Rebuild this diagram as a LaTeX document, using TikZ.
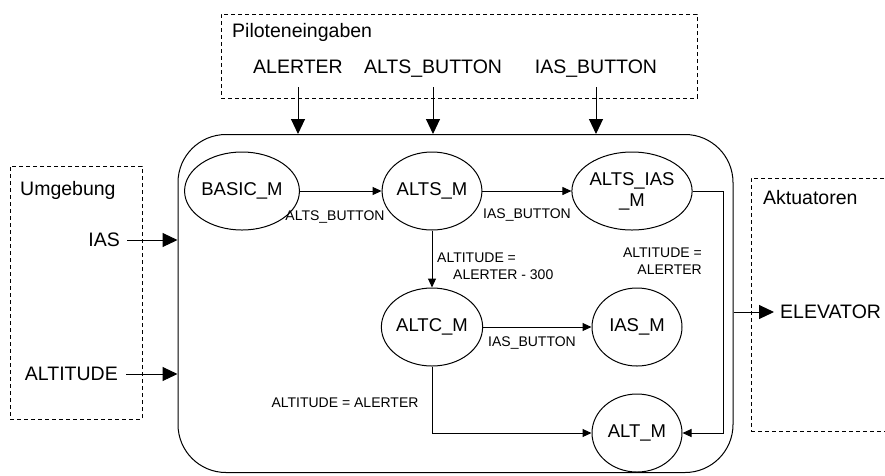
\documentclass[tikz,border=0pt]{standalone}
\usepackage{fontspec}
\setmainfont{Liberation Sans}
\usetikzlibrary{shapes.geometric,arrows.meta}
\begin{document}
\begin{tikzpicture}[x=1pt,y=-1pt,
  lbl/.style={inner sep=0pt, font=\fontsize{19.5}{22}\selectfont},
  small/.style={inner sep=0pt, font=\fontsize{14}{17}\selectfont},
  state/.style={draw, ellipse, line width=1pt, minimum width=90pt, minimum height=78pt, inner sep=0pt, font=\fontsize{18.5}{21}\selectfont, align=center},
  dbox/.style={draw, dash pattern=on 4pt off 3pt, line width=1pt, inner sep=0pt},
  big/.style={-{Triangle[length=15pt,width=14pt]}, line width=1pt},
  tr/.style={-{Triangle[length=9pt,width=8pt]}, line width=1pt},
]
\useasboundingbox (0,0) rectangle (885,475);

% environment boxes
\node[dbox, minimum width=476pt, minimum height=84pt] (pilotbox) at (459,56) {};
\node[dbox, minimum width=132pt, minimum height=253pt] (envbox) at (76,292.5) {};
\node[dbox, minimum width=150pt, minimum height=253pt] (actbox) at (826,304.5) {};

\node[lbl, anchor=base west] (pilot) at (232,37) {Piloteneingaben};
\node[lbl, anchor=base west] (umg) at (20,195) {Umgebung};
\node[lbl, anchor=base west] (akt) at (763,204) {Aktuatoren};

% system box
\node[draw, line width=1pt, rounded corners=48pt, minimum width=555pt, minimum height=338pt] (sys) at (455.5,303.5) {};

% inputs
\node[lbl, anchor=base, text depth=0pt] (alerter) at (298,73) {ALERTER};
\node[lbl, anchor=base, text depth=0pt] (altsb) at (433,73) {ALTS\_BUTTON};
\node[lbl, anchor=base, text depth=0pt] (iasb) at (596,73) {IAS\_BUTTON};
\draw[big] ([yshift=-14pt]alerter.south) -- (alerter.south |- sys.north);
\draw[big] ([yshift=-14pt]altsb.south) -- (altsb.south |- sys.north);
\draw[big] ([yshift=-14pt]iasb.south) -- (iasb.south |- sys.north);

\node[lbl, anchor=east] (ias) at (120,240) {IAS};
\node[lbl, anchor=east] (alt) at (118,374) {ALTITUDE};
\draw[big] ([xshift=7pt]ias.east) -- (ias.east -| sys.west);
\draw[big] ([xshift=8pt]alt.east) -- (alt.east -| sys.west);

\node[lbl, anchor=west] (elev) at (780,312) {ELEVATOR};
\draw[big] (elev.west -| sys.east) -- ([xshift=-6pt]elev.west);

% states
\node[state] (basic) at (242,191) {BASIC\_M};
\node[state] (alts) at (432,191) {ALTS\_M};
\node[state] (altsias) at (632,191) {ALTS\_IAS\\\_M};
\node[state] (altc) at (432,327) {ALTC\_M};
\node[state] (iasm) at (637,327) {IAS\_M};
\node[state] (altm) at (637,433) {ALT\_M};

% transitions
\draw[tr] (basic) -- (alts);
\draw[tr] (alts) -- (altsias);
\draw[tr] (alts) -- (altc);
\draw[tr] (altc) -- (iasm);
\draw[tr] (altc.south) |- (altm.west);
\draw[tr] (altsias.east) -- ++(31,0) |- (altm.east);

\node[small, anchor=base] (t1) at (335,220) {ALTS\_BUTTON};
\node[small, anchor=base] (t2) at (527,218) {IAS\_BUTTON};
\node[small, anchor=base west, align=left] (t3) at (437,279) {ALTITUDE =\\\hspace*{16pt}ALERTER - 300};
\node[small, anchor=base east, align=right] (t4) at (702,274) {ALTITUDE =\\ALERTER};
\node[small, anchor=base] (t5) at (532,346) {IAS\_BUTTON};
\node[small, anchor=base] (t6) at (345,407) {ALTITUDE = ALERTER};
\end{tikzpicture}
\end{document}
